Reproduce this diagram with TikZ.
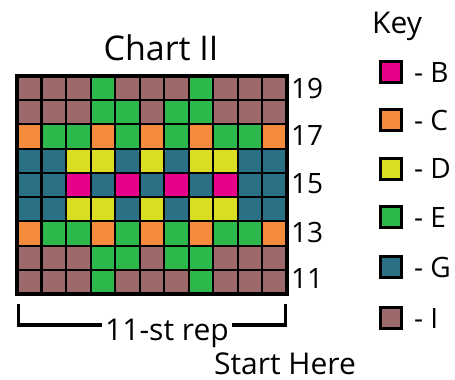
\documentclass[tikz,border=0pt]{standalone}
\usepackage{fontspec}
\setmainfont{Open Sans}
\definecolor{cB}{HTML}{E8008A}
\definecolor{cC}{HTML}{F58B3C}
\definecolor{cD}{HTML}{D9DE22}
\definecolor{cE}{HTML}{2DB84B}
\definecolor{cG}{HTML}{2A7186}
\definecolor{cI}{HTML}{9C6A6A}
\tikzset{
  lbl/.style={font=\fontsize{28}{30}\selectfont, inner sep=0pt},
  txt/.style={font=\fontsize{30}{32}\selectfont, inner sep=0pt},
  ttl/.style={font=\fontsize{34}{36}\selectfont, inner sep=0pt},
  swatch/.style={draw=black, line width=3pt, minimum size=21pt, inner sep=0pt},
  gridline/.style={line width=2pt, black},
  frame/.style={line width=4pt, black},
  brk/.style={line width=3.5pt, black},
}
\newcommand\myrowfill[2]{%
  \foreach \cc [count=\ii from 0] in {#2} {
    \fill[\cc] ({17+\ii*24.545},{76+#1*24.222}) rectangle ++(24.545,24.222);
  }}
\begin{document}
\begin{tikzpicture}[x=1pt,y=-1pt]
\useasboundingbox (0,0) rectangle (455,380);
\def\cw{24.545}
\def\ch{24.222}
\def\gx{17}
\def\gy{76}
\myrowfill{0}{cI,cI,cI,cE,cI,cI,cI,cE,cI,cI,cI}
\myrowfill{1}{cI,cI,cI,cE,cE,cI,cE,cE,cI,cI,cI}
\myrowfill{2}{cC,cE,cE,cC,cE,cC,cE,cC,cE,cE,cC}
\myrowfill{3}{cG,cG,cD,cD,cG,cD,cG,cD,cD,cG,cG}
\myrowfill{4}{cG,cG,cB,cG,cB,cG,cB,cG,cB,cG,cG}
\myrowfill{5}{cG,cG,cD,cD,cG,cD,cG,cD,cD,cG,cG}
\myrowfill{6}{cC,cE,cE,cC,cE,cC,cE,cC,cE,cE,cC}
\myrowfill{7}{cI,cI,cI,cE,cE,cI,cE,cE,cI,cI,cI}
\myrowfill{8}{cI,cI,cI,cE,cI,cI,cI,cE,cI,cI,cI}
% grid lines
\foreach \i in {2,...,10} \draw[gridline] ({\gx+\i*\cw},\gy) -- ++(0,{9*\ch});
\foreach \j in {1,...,8} \draw[gridline] (\gx,{\gy+\j*\ch}) -- ++({11*\cw},0);
\draw[line width=3.5pt] ({\gx+\cw},\gy) -- ++(0,{9*\ch});
\draw[frame] (\gx,\gy) rectangle ++({11*\cw},{9*\ch});
% title
\node[ttl, anchor=base] (title) at (161,60) {Chart II};
% row numbers
\node[lbl, anchor=base west] (r19) at (291,98) {19};
\node[lbl, anchor=base west] (r17) at (291,145) {17};
\node[lbl, anchor=base west] (r15) at (291,193) {15};
\node[lbl, anchor=base west] (r13) at (291,242) {13};
\node[lbl, anchor=base west] (r11) at (291,288) {11};
% key
\node[txt, anchor=base] (key) at (397,33) {Key};
\foreach \col/\lt/\yy [count=\k] in {cB/B/72, cC/C/120, cD/D/168.5, cE/E/217, cG/G/267, cI/I/318} {
  \node[swatch, fill=\col] (sw\k) at (391,\yy) {};
  \node[lbl, anchor=base west] (kt\k) at (414,{\yy+10}) {- \lt};
}
% repeat bracket
\node[txt, anchor=base] (rep) at (167,340) {11-st rep};
\coordinate (bl) at (18.5,304);
\coordinate (blc) at (18.5,325);
\coordinate (br) at (285.5,304);
\coordinate (brc) at (285.5,325);
\draw[brk] (bl) -- (blc) -- ([xshift=-3pt]blc -| rep.west);
\draw[brk] (br) -- (brc) -- ([xshift=3pt]brc -| rep.east);
\node[txt, anchor=base] (start) at (285,374) {Start Here};
\end{tikzpicture}
\end{document}
